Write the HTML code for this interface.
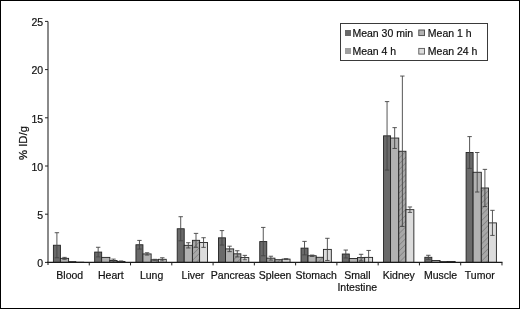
<!DOCTYPE html>
<html><head><meta charset="utf-8"><style>
html,body{margin:0;padding:0;background:#fff;}
svg{display:block;will-change:transform;}
text{font-family:"Liberation Sans",sans-serif;font-size:10.5px;fill:#111;stroke:#111;stroke-width:0.2px;}
</style></head><body>
<svg width="520" height="309" viewBox="0 0 520 309">
<defs>
<pattern id="hatch" patternUnits="userSpaceOnUse" width="4.1" height="4.1" patternTransform="rotate(45)">
<rect width="4.1" height="4.1" fill="#a8a8a8"/>
<line x1="0" y1="0" x2="0" y2="4.1" stroke="#6e6e6e" stroke-width="1"/>
</pattern>
</defs>
<rect x="0" y="0" width="520" height="309" fill="#fff"/>
<rect x="53.40" y="245.24" width="7.00" height="17.16" fill="#6a6a6a" stroke="#222" stroke-width="0.9"/>
<rect x="60.40" y="258.35" width="8.20" height="4.05" fill="#b2b2b2" stroke="#222" stroke-width="0.9"/>
<rect x="68.60" y="261.63" width="7.20" height="0.77" fill="url(#hatch)" stroke="#222" stroke-width="0.9"/>
<rect x="75.80" y="262.21" width="7.90" height="0.19" fill="#dcdcdc" stroke="#222" stroke-width="0.9"/>
<line x1="56.90" y1="232.71" x2="56.90" y2="257.77" stroke="#444" stroke-width="0.9"/>
<line x1="54.70" y1="232.71" x2="59.10" y2="232.71" stroke="#444" stroke-width="0.9"/>
<line x1="54.70" y1="257.77" x2="59.10" y2="257.77" stroke="#444" stroke-width="0.9"/>
<line x1="64.50" y1="257.39" x2="64.50" y2="259.32" stroke="#444" stroke-width="0.9"/>
<line x1="62.30" y1="257.39" x2="66.70" y2="257.39" stroke="#444" stroke-width="0.9"/>
<line x1="62.30" y1="259.32" x2="66.70" y2="259.32" stroke="#444" stroke-width="0.9"/>
<text x="69.75" y="278.6" text-anchor="middle">Blood</text>
<rect x="94.67" y="252.09" width="7.00" height="10.31" fill="#6a6a6a" stroke="#222" stroke-width="0.9"/>
<rect x="101.67" y="257.39" width="8.20" height="5.01" fill="#b2b2b2" stroke="#222" stroke-width="0.9"/>
<rect x="109.87" y="260.47" width="7.20" height="1.93" fill="url(#hatch)" stroke="#222" stroke-width="0.9"/>
<rect x="117.07" y="261.44" width="7.90" height="0.96" fill="#dcdcdc" stroke="#222" stroke-width="0.9"/>
<line x1="98.17" y1="247.27" x2="98.17" y2="256.91" stroke="#444" stroke-width="0.9"/>
<line x1="95.97" y1="247.27" x2="100.37" y2="247.27" stroke="#444" stroke-width="0.9"/>
<line x1="95.97" y1="256.91" x2="100.37" y2="256.91" stroke="#444" stroke-width="0.9"/>
<line x1="113.47" y1="259.12" x2="113.47" y2="261.82" stroke="#444" stroke-width="0.9"/>
<line x1="111.27" y1="259.12" x2="115.67" y2="259.12" stroke="#444" stroke-width="0.9"/>
<line x1="111.27" y1="261.82" x2="115.67" y2="261.82" stroke="#444" stroke-width="0.9"/>
<line x1="121.02" y1="260.95" x2="121.02" y2="261.92" stroke="#444" stroke-width="0.9"/>
<line x1="118.82" y1="260.95" x2="123.22" y2="260.95" stroke="#444" stroke-width="0.9"/>
<line x1="118.82" y1="261.92" x2="123.22" y2="261.92" stroke="#444" stroke-width="0.9"/>
<text x="110.80" y="278.6" text-anchor="middle">Heart</text>
<rect x="135.94" y="244.76" width="7.00" height="17.64" fill="#6a6a6a" stroke="#222" stroke-width="0.9"/>
<rect x="142.94" y="253.92" width="8.20" height="8.48" fill="#b2b2b2" stroke="#222" stroke-width="0.9"/>
<rect x="151.14" y="259.80" width="7.20" height="2.60" fill="url(#hatch)" stroke="#222" stroke-width="0.9"/>
<rect x="158.34" y="259.32" width="7.90" height="3.08" fill="#dcdcdc" stroke="#222" stroke-width="0.9"/>
<line x1="139.44" y1="240.42" x2="139.44" y2="249.10" stroke="#444" stroke-width="0.9"/>
<line x1="137.24" y1="240.42" x2="141.64" y2="240.42" stroke="#444" stroke-width="0.9"/>
<line x1="137.24" y1="249.10" x2="141.64" y2="249.10" stroke="#444" stroke-width="0.9"/>
<line x1="147.04" y1="252.76" x2="147.04" y2="255.07" stroke="#444" stroke-width="0.9"/>
<line x1="144.84" y1="252.76" x2="149.24" y2="252.76" stroke="#444" stroke-width="0.9"/>
<line x1="144.84" y1="255.07" x2="149.24" y2="255.07" stroke="#444" stroke-width="0.9"/>
<line x1="154.74" y1="259.32" x2="154.74" y2="260.28" stroke="#444" stroke-width="0.9"/>
<line x1="152.54" y1="259.32" x2="156.94" y2="259.32" stroke="#444" stroke-width="0.9"/>
<line x1="152.54" y1="260.28" x2="156.94" y2="260.28" stroke="#444" stroke-width="0.9"/>
<line x1="162.29" y1="257.77" x2="162.29" y2="260.86" stroke="#444" stroke-width="0.9"/>
<line x1="160.09" y1="257.77" x2="164.49" y2="257.77" stroke="#444" stroke-width="0.9"/>
<line x1="160.09" y1="260.86" x2="164.49" y2="260.86" stroke="#444" stroke-width="0.9"/>
<text x="151.60" y="278.6" text-anchor="middle">Lung</text>
<rect x="177.21" y="228.76" width="7.00" height="33.64" fill="#6a6a6a" stroke="#222" stroke-width="0.9"/>
<rect x="184.21" y="245.34" width="8.20" height="17.06" fill="#b2b2b2" stroke="#222" stroke-width="0.9"/>
<rect x="192.41" y="240.32" width="7.20" height="22.08" fill="url(#hatch)" stroke="#222" stroke-width="0.9"/>
<rect x="199.61" y="242.54" width="7.90" height="19.86" fill="#dcdcdc" stroke="#222" stroke-width="0.9"/>
<line x1="180.71" y1="216.71" x2="180.71" y2="240.81" stroke="#444" stroke-width="0.9"/>
<line x1="178.51" y1="216.71" x2="182.91" y2="216.71" stroke="#444" stroke-width="0.9"/>
<line x1="178.51" y1="240.81" x2="182.91" y2="240.81" stroke="#444" stroke-width="0.9"/>
<line x1="188.31" y1="242.73" x2="188.31" y2="247.94" stroke="#444" stroke-width="0.9"/>
<line x1="186.11" y1="242.73" x2="190.51" y2="242.73" stroke="#444" stroke-width="0.9"/>
<line x1="186.11" y1="247.94" x2="190.51" y2="247.94" stroke="#444" stroke-width="0.9"/>
<line x1="196.01" y1="233.38" x2="196.01" y2="247.27" stroke="#444" stroke-width="0.9"/>
<line x1="193.81" y1="233.38" x2="198.21" y2="233.38" stroke="#444" stroke-width="0.9"/>
<line x1="193.81" y1="247.27" x2="198.21" y2="247.27" stroke="#444" stroke-width="0.9"/>
<line x1="203.56" y1="237.72" x2="203.56" y2="247.36" stroke="#444" stroke-width="0.9"/>
<line x1="201.36" y1="237.72" x2="205.76" y2="237.72" stroke="#444" stroke-width="0.9"/>
<line x1="201.36" y1="247.36" x2="205.76" y2="247.36" stroke="#444" stroke-width="0.9"/>
<text x="193.00" y="278.6" text-anchor="middle">Liver</text>
<rect x="218.48" y="237.82" width="7.00" height="24.58" fill="#6a6a6a" stroke="#222" stroke-width="0.9"/>
<rect x="225.48" y="248.90" width="8.20" height="13.50" fill="#b2b2b2" stroke="#222" stroke-width="0.9"/>
<rect x="233.68" y="253.82" width="7.20" height="8.58" fill="url(#hatch)" stroke="#222" stroke-width="0.9"/>
<rect x="240.88" y="257.58" width="7.90" height="4.82" fill="#dcdcdc" stroke="#222" stroke-width="0.9"/>
<line x1="221.98" y1="230.59" x2="221.98" y2="245.05" stroke="#444" stroke-width="0.9"/>
<line x1="219.78" y1="230.59" x2="224.18" y2="230.59" stroke="#444" stroke-width="0.9"/>
<line x1="219.78" y1="245.05" x2="224.18" y2="245.05" stroke="#444" stroke-width="0.9"/>
<line x1="229.58" y1="246.20" x2="229.58" y2="251.60" stroke="#444" stroke-width="0.9"/>
<line x1="227.38" y1="246.20" x2="231.78" y2="246.20" stroke="#444" stroke-width="0.9"/>
<line x1="227.38" y1="251.60" x2="231.78" y2="251.60" stroke="#444" stroke-width="0.9"/>
<line x1="237.28" y1="250.74" x2="237.28" y2="256.91" stroke="#444" stroke-width="0.9"/>
<line x1="235.08" y1="250.74" x2="239.48" y2="250.74" stroke="#444" stroke-width="0.9"/>
<line x1="235.08" y1="256.91" x2="239.48" y2="256.91" stroke="#444" stroke-width="0.9"/>
<line x1="244.83" y1="255.36" x2="244.83" y2="259.80" stroke="#444" stroke-width="0.9"/>
<line x1="242.63" y1="255.36" x2="247.03" y2="255.36" stroke="#444" stroke-width="0.9"/>
<line x1="242.63" y1="259.80" x2="247.03" y2="259.80" stroke="#444" stroke-width="0.9"/>
<text x="233.00" y="278.6" text-anchor="middle">Pancreas</text>
<rect x="259.75" y="241.58" width="7.00" height="20.82" fill="#6a6a6a" stroke="#222" stroke-width="0.9"/>
<rect x="266.75" y="258.16" width="8.20" height="4.24" fill="#b2b2b2" stroke="#222" stroke-width="0.9"/>
<rect x="274.95" y="259.70" width="7.20" height="2.70" fill="url(#hatch)" stroke="#222" stroke-width="0.9"/>
<rect x="282.15" y="259.12" width="7.90" height="3.28" fill="#dcdcdc" stroke="#222" stroke-width="0.9"/>
<line x1="263.25" y1="227.41" x2="263.25" y2="255.75" stroke="#444" stroke-width="0.9"/>
<line x1="261.05" y1="227.41" x2="265.45" y2="227.41" stroke="#444" stroke-width="0.9"/>
<line x1="261.05" y1="255.75" x2="265.45" y2="255.75" stroke="#444" stroke-width="0.9"/>
<line x1="270.85" y1="256.23" x2="270.85" y2="260.09" stroke="#444" stroke-width="0.9"/>
<line x1="268.65" y1="256.23" x2="273.05" y2="256.23" stroke="#444" stroke-width="0.9"/>
<line x1="268.65" y1="260.09" x2="273.05" y2="260.09" stroke="#444" stroke-width="0.9"/>
<line x1="286.10" y1="258.64" x2="286.10" y2="259.60" stroke="#444" stroke-width="0.9"/>
<line x1="283.90" y1="258.64" x2="288.30" y2="258.64" stroke="#444" stroke-width="0.9"/>
<line x1="283.90" y1="259.60" x2="288.30" y2="259.60" stroke="#444" stroke-width="0.9"/>
<text x="275.10" y="278.6" text-anchor="middle">Spleen</text>
<rect x="301.02" y="248.13" width="7.00" height="14.27" fill="#6a6a6a" stroke="#222" stroke-width="0.9"/>
<rect x="308.02" y="255.75" width="8.20" height="6.65" fill="#b2b2b2" stroke="#222" stroke-width="0.9"/>
<rect x="316.22" y="257.29" width="7.20" height="5.11" fill="url(#hatch)" stroke="#222" stroke-width="0.9"/>
<rect x="323.42" y="249.39" width="7.90" height="13.01" fill="#dcdcdc" stroke="#222" stroke-width="0.9"/>
<line x1="304.52" y1="241.38" x2="304.52" y2="254.88" stroke="#444" stroke-width="0.9"/>
<line x1="302.32" y1="241.38" x2="306.72" y2="241.38" stroke="#444" stroke-width="0.9"/>
<line x1="302.32" y1="254.88" x2="306.72" y2="254.88" stroke="#444" stroke-width="0.9"/>
<line x1="312.12" y1="255.07" x2="312.12" y2="256.42" stroke="#444" stroke-width="0.9"/>
<line x1="309.92" y1="255.07" x2="314.32" y2="255.07" stroke="#444" stroke-width="0.9"/>
<line x1="309.92" y1="256.42" x2="314.32" y2="256.42" stroke="#444" stroke-width="0.9"/>
<line x1="327.37" y1="238.30" x2="327.37" y2="260.47" stroke="#444" stroke-width="0.9"/>
<line x1="325.17" y1="238.30" x2="329.57" y2="238.30" stroke="#444" stroke-width="0.9"/>
<line x1="325.17" y1="260.47" x2="329.57" y2="260.47" stroke="#444" stroke-width="0.9"/>
<text x="316.20" y="278.6" text-anchor="middle">Stomach</text>
<rect x="342.29" y="254.01" width="7.00" height="8.39" fill="#6a6a6a" stroke="#222" stroke-width="0.9"/>
<rect x="349.29" y="258.45" width="8.20" height="3.95" fill="#b2b2b2" stroke="#222" stroke-width="0.9"/>
<rect x="357.49" y="257.58" width="7.20" height="4.82" fill="url(#hatch)" stroke="#222" stroke-width="0.9"/>
<rect x="364.69" y="257.39" width="7.90" height="5.01" fill="#dcdcdc" stroke="#222" stroke-width="0.9"/>
<line x1="345.79" y1="250.06" x2="345.79" y2="257.97" stroke="#444" stroke-width="0.9"/>
<line x1="343.59" y1="250.06" x2="347.99" y2="250.06" stroke="#444" stroke-width="0.9"/>
<line x1="343.59" y1="257.97" x2="347.99" y2="257.97" stroke="#444" stroke-width="0.9"/>
<line x1="361.09" y1="254.30" x2="361.09" y2="260.86" stroke="#444" stroke-width="0.9"/>
<line x1="358.89" y1="254.30" x2="363.29" y2="254.30" stroke="#444" stroke-width="0.9"/>
<line x1="358.89" y1="260.86" x2="363.29" y2="260.86" stroke="#444" stroke-width="0.9"/>
<line x1="368.64" y1="250.45" x2="368.64" y2="262.40" stroke="#444" stroke-width="0.9"/>
<line x1="366.44" y1="250.45" x2="370.84" y2="250.45" stroke="#444" stroke-width="0.9"/>
<line x1="366.44" y1="262.40" x2="370.84" y2="262.40" stroke="#444" stroke-width="0.9"/>
<text x="357.40" y="278.6" text-anchor="middle">Small</text>
<text x="357.25" y="291.0" text-anchor="middle">Intestine</text>
<rect x="383.56" y="135.83" width="7.00" height="126.57" fill="#6a6a6a" stroke="#222" stroke-width="0.9"/>
<rect x="390.56" y="138.04" width="8.20" height="124.36" fill="#b2b2b2" stroke="#222" stroke-width="0.9"/>
<rect x="398.76" y="151.25" width="7.20" height="111.15" fill="url(#hatch)" stroke="#222" stroke-width="0.9"/>
<rect x="405.96" y="209.67" width="7.90" height="52.73" fill="#dcdcdc" stroke="#222" stroke-width="0.9"/>
<line x1="387.06" y1="101.60" x2="387.06" y2="170.05" stroke="#444" stroke-width="0.9"/>
<line x1="384.86" y1="101.60" x2="389.26" y2="101.60" stroke="#444" stroke-width="0.9"/>
<line x1="384.86" y1="170.05" x2="389.26" y2="170.05" stroke="#444" stroke-width="0.9"/>
<line x1="394.66" y1="127.63" x2="394.66" y2="148.46" stroke="#444" stroke-width="0.9"/>
<line x1="392.46" y1="127.63" x2="396.86" y2="127.63" stroke="#444" stroke-width="0.9"/>
<line x1="392.46" y1="148.46" x2="396.86" y2="148.46" stroke="#444" stroke-width="0.9"/>
<line x1="402.36" y1="76.06" x2="402.36" y2="226.44" stroke="#444" stroke-width="0.9"/>
<line x1="400.16" y1="76.06" x2="404.56" y2="76.06" stroke="#444" stroke-width="0.9"/>
<line x1="400.16" y1="226.44" x2="404.56" y2="226.44" stroke="#444" stroke-width="0.9"/>
<line x1="409.91" y1="206.97" x2="409.91" y2="212.37" stroke="#444" stroke-width="0.9"/>
<line x1="407.71" y1="206.97" x2="412.11" y2="206.97" stroke="#444" stroke-width="0.9"/>
<line x1="407.71" y1="212.37" x2="412.11" y2="212.37" stroke="#444" stroke-width="0.9"/>
<text x="398.80" y="278.6" text-anchor="middle">Kidney</text>
<rect x="424.83" y="257.29" width="7.00" height="5.11" fill="#6a6a6a" stroke="#222" stroke-width="0.9"/>
<rect x="431.83" y="260.47" width="8.20" height="1.93" fill="#b2b2b2" stroke="#222" stroke-width="0.9"/>
<rect x="440.03" y="261.63" width="7.20" height="0.77" fill="url(#hatch)" stroke="#222" stroke-width="0.9"/>
<rect x="447.23" y="261.44" width="7.90" height="0.96" fill="#dcdcdc" stroke="#222" stroke-width="0.9"/>
<line x1="428.33" y1="255.27" x2="428.33" y2="259.32" stroke="#444" stroke-width="0.9"/>
<line x1="426.13" y1="255.27" x2="430.53" y2="255.27" stroke="#444" stroke-width="0.9"/>
<line x1="426.13" y1="259.32" x2="430.53" y2="259.32" stroke="#444" stroke-width="0.9"/>
<text x="440.60" y="278.6" text-anchor="middle">Muscle</text>
<rect x="466.10" y="152.50" width="7.00" height="109.90" fill="#6a6a6a" stroke="#222" stroke-width="0.9"/>
<rect x="473.10" y="172.27" width="8.20" height="90.13" fill="#b2b2b2" stroke="#222" stroke-width="0.9"/>
<rect x="481.30" y="187.98" width="7.20" height="74.42" fill="url(#hatch)" stroke="#222" stroke-width="0.9"/>
<rect x="488.50" y="222.88" width="7.90" height="39.52" fill="#dcdcdc" stroke="#222" stroke-width="0.9"/>
<line x1="469.60" y1="136.60" x2="469.60" y2="168.41" stroke="#444" stroke-width="0.9"/>
<line x1="467.40" y1="136.60" x2="471.80" y2="136.60" stroke="#444" stroke-width="0.9"/>
<line x1="467.40" y1="168.41" x2="471.80" y2="168.41" stroke="#444" stroke-width="0.9"/>
<line x1="477.20" y1="152.50" x2="477.20" y2="192.03" stroke="#444" stroke-width="0.9"/>
<line x1="475.00" y1="152.50" x2="479.40" y2="152.50" stroke="#444" stroke-width="0.9"/>
<line x1="475.00" y1="192.03" x2="479.40" y2="192.03" stroke="#444" stroke-width="0.9"/>
<line x1="484.90" y1="169.37" x2="484.90" y2="206.58" stroke="#444" stroke-width="0.9"/>
<line x1="482.70" y1="169.37" x2="487.10" y2="169.37" stroke="#444" stroke-width="0.9"/>
<line x1="482.70" y1="206.58" x2="487.10" y2="206.58" stroke="#444" stroke-width="0.9"/>
<line x1="492.45" y1="210.34" x2="492.45" y2="235.41" stroke="#444" stroke-width="0.9"/>
<line x1="490.25" y1="210.34" x2="494.65" y2="210.34" stroke="#444" stroke-width="0.9"/>
<line x1="490.25" y1="235.41" x2="494.65" y2="235.41" stroke="#444" stroke-width="0.9"/>
<text x="479.80" y="278.6" text-anchor="middle">Tumor</text>
<line x1="48" y1="21.40" x2="48" y2="265.00" stroke="#8a8a8a" stroke-width="2"/>
<line x1="45" y1="262.40" x2="48" y2="262.40" stroke="#222" stroke-width="1"/>
<text x="43.2" y="267.20" text-anchor="end">0</text>
<line x1="45" y1="214.20" x2="48" y2="214.20" stroke="#222" stroke-width="1"/>
<text x="43.2" y="219.00" text-anchor="end">5</text>
<line x1="45" y1="166.00" x2="48" y2="166.00" stroke="#222" stroke-width="1"/>
<text x="43.2" y="170.80" text-anchor="end">10</text>
<line x1="45" y1="117.80" x2="48" y2="117.80" stroke="#222" stroke-width="1"/>
<text x="43.2" y="122.60" text-anchor="end">15</text>
<line x1="45" y1="69.60" x2="48" y2="69.60" stroke="#222" stroke-width="1"/>
<text x="43.2" y="74.40" text-anchor="end">20</text>
<line x1="45" y1="21.40" x2="48" y2="21.40" stroke="#222" stroke-width="1"/>
<text x="43.2" y="26.20" text-anchor="end">25</text>
<line x1="47" y1="262.40" x2="502.47" y2="262.40" stroke="#1a1a1a" stroke-width="1.4"/>
<line x1="89.27" y1="262.40" x2="89.27" y2="265.40" stroke="#222" stroke-width="1"/>
<line x1="130.54" y1="262.40" x2="130.54" y2="265.40" stroke="#222" stroke-width="1"/>
<line x1="171.81" y1="262.40" x2="171.81" y2="265.40" stroke="#222" stroke-width="1"/>
<line x1="213.08" y1="262.40" x2="213.08" y2="265.40" stroke="#222" stroke-width="1"/>
<line x1="254.35" y1="262.40" x2="254.35" y2="265.40" stroke="#222" stroke-width="1"/>
<line x1="295.62" y1="262.40" x2="295.62" y2="265.40" stroke="#222" stroke-width="1"/>
<line x1="336.89" y1="262.40" x2="336.89" y2="265.40" stroke="#222" stroke-width="1"/>
<line x1="378.16" y1="262.40" x2="378.16" y2="265.40" stroke="#222" stroke-width="1"/>
<line x1="419.43" y1="262.40" x2="419.43" y2="265.40" stroke="#222" stroke-width="1"/>
<line x1="460.70" y1="262.40" x2="460.70" y2="265.40" stroke="#222" stroke-width="1"/>
<line x1="501.97" y1="262.40" x2="501.97" y2="265.40" stroke="#222" stroke-width="1"/>

<rect x="340.5" y="23.5" width="147" height="37" fill="#fff" stroke="#3a3a3a" stroke-width="1"/>
<rect x="345" y="30" width="6" height="6" fill="#6a6a6a"/>
<text x="352.4" y="36.8">Mean 30 min</text>
<rect x="418.8" y="30" width="5.7" height="5.6" fill="#b2b2b2" stroke="#444" stroke-width="0.9"/>
<text x="427.8" y="36.8">Mean 1 h</text>
<rect x="345" y="48" width="6" height="6" fill="#a0a0a0"/>
<text x="352.4" y="55.0">Mean 4 h</text>
<rect x="418.8" y="48.4" width="5.7" height="5.7" fill="#dcdcdc" stroke="#555" stroke-width="0.9"/>
<text x="427.8" y="55.0">Mean 24 h</text>

<text transform="translate(26.6,143.0) rotate(-90)" text-anchor="middle" style="font-size:11.3px">% ID/g</text>
<rect x="0.5" y="0.5" width="519" height="308" fill="none" stroke="#000" stroke-width="1"/>
</svg>
</body></html>
